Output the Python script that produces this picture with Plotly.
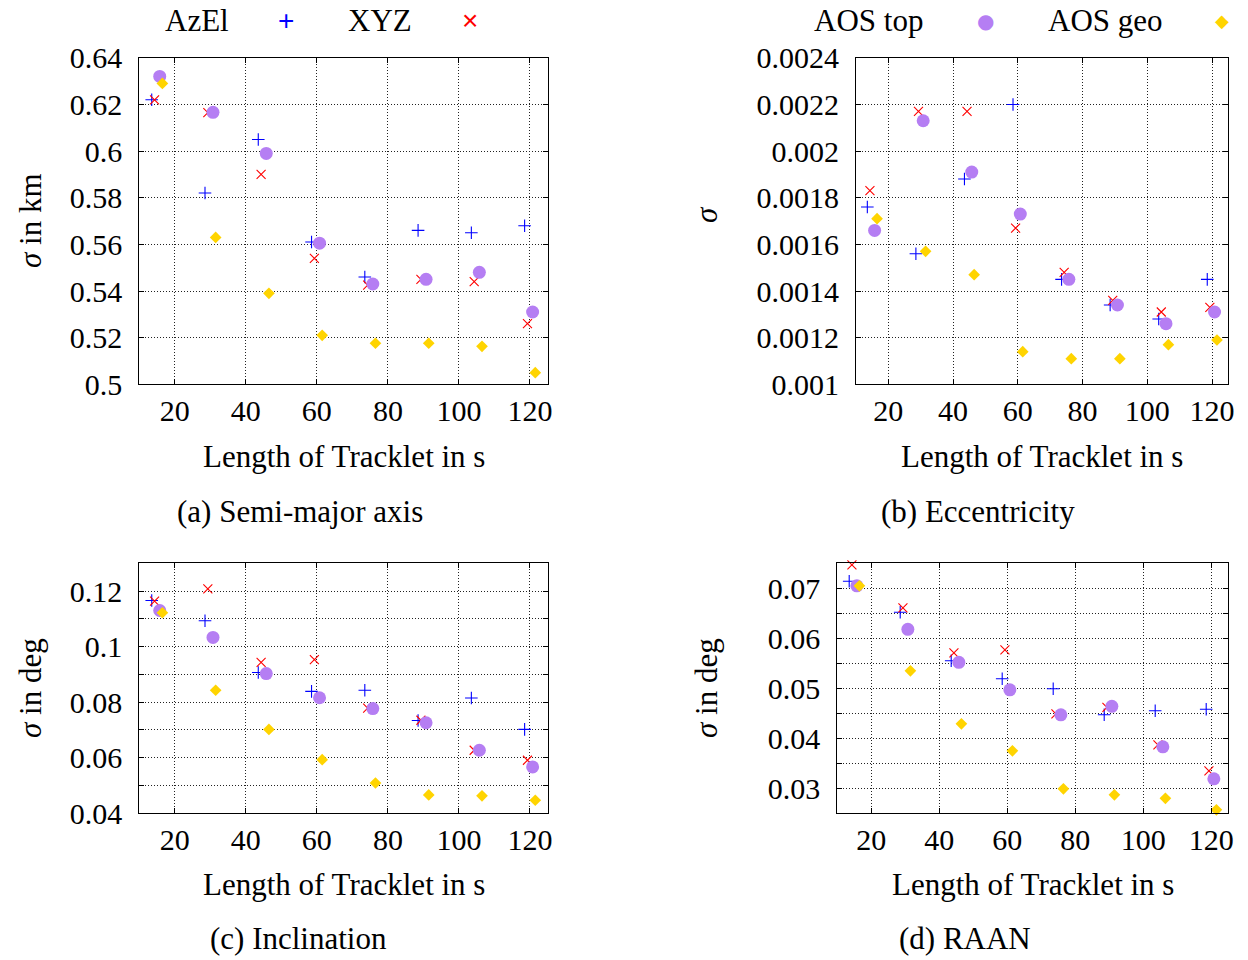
import plotly.graph_objects as go

# ---------------- data ----------------
# tracklet lengths (s), slightly offset per method as in the reference
x_azel = [13.5, 28.5, 43.5, 58.5, 73.5, 88.5, 103.5, 118.5]
x_xyz = [14.3, 29.3, 44.3, 59.3, 74.3, 89.3, 104.3, 119.3]
x_top = [15.75, 30.75, 45.75, 60.75, 75.75, 90.75, 105.75, 120.75]
x_geo = [16.5, 31.5, 46.5, 61.5, 76.5, 91.5, 106.5, 121.5]

# (a) semi-major axis sigma in km
a_azel = [0.622, 0.582, 0.605, 0.561, 0.546, 0.566, 0.565, 0.568]
a_xyz = [0.622, 0.6165, 0.590, 0.554, 0.5425, 0.545, 0.544, 0.526]
a_top = [0.632, 0.6166, 0.599, 0.5605, 0.543, 0.545, 0.548, 0.531]
a_geo = [0.629, 0.563, 0.539, 0.521, 0.5176, 0.5176, 0.5163, 0.505]

# (b) eccentricity sigma
e_azel = [0.00176, 0.00156, 0.00188, 0.00220, 0.00145, 0.00134, 0.00128, 0.00145]
e_xyz = [0.00183, 0.00217, 0.00217, 0.00167, 0.00148, 0.00136, 0.00131, 0.00133]
e_top = [0.00166, 0.00213, 0.00191, 0.00173, 0.00145, 0.00134, 0.00126, 0.00131]
e_geo = [0.00171, 0.00157, 0.00147, 0.00114, 0.00111, 0.00111, 0.00117, 0.00119]

# (c) inclination sigma in deg
i_azel = [0.1166, 0.1093, 0.0907, 0.0839, 0.0843, 0.0734, 0.0815, 0.0702]
i_xyz = [0.1164, 0.1208, 0.0943, 0.0953, 0.0779, 0.0735, 0.0627, 0.0591]
i_top = [0.1130, 0.1033, 0.0903, 0.0816, 0.0777, 0.0726, 0.0627, 0.0567]
i_geo = [0.1122, 0.0843, 0.0702, 0.0593, 0.0509, 0.0466, 0.0463, 0.0447]

# (d) RAAN sigma in deg
r_azel = [0.0714, 0.0652, 0.0555, 0.0519, 0.0499, 0.0447, 0.0455, 0.0458]
r_xyz = [0.0747, 0.0661, 0.0571, 0.0577, 0.0449, 0.0462, 0.0387, 0.0335]
r_top = [0.0705, 0.0618, 0.0552, 0.0497, 0.0447, 0.0464, 0.0383, 0.0319]
r_geo = [0.0705, 0.0535, 0.0429, 0.0375, 0.0299, 0.0287, 0.0280, 0.0257]

series_names = ["AzEl", "XYZ", "AOS top", "AOS geo"]

x_ticks = [20, 40, 60, 80, 100, 120]
x_ticktext = ["20", "40", "60", "80", "100", "120"]

a_ticks = [0.5, 0.52, 0.54, 0.56, 0.58, 0.6, 0.62, 0.64]
a_ticktext = ["0.5", "0.52", "0.54", "0.56", "0.58", "0.6", "0.62", "0.64"]
e_ticks = [0.001, 0.0012, 0.0014, 0.0016, 0.0018, 0.002, 0.0022, 0.0024]
e_ticktext = ["0.001", "0.0012", "0.0014", "0.0016", "0.0018", "0.002", "0.0022", "0.0024"]
i_ticks = [0.04, 0.05, 0.06, 0.07, 0.08, 0.09, 0.1, 0.11, 0.12]
i_ticktext = ["0.04", "", "0.06", "", "0.08", "", "0.1", "", "0.12"]
r_ticks = [0.025, 0.03, 0.035, 0.04, 0.045, 0.05, 0.055, 0.06, 0.065, 0.07]
r_ticktext = ["", "0.03", "", "0.04", "", "0.05", "", "0.06", "", "0.07"]

captions = ["(a) Semi-major axis", "(b) Eccentricity", "(c) Inclination", "(d) RAAN"]
y_titles = ["<i>σ</i> in km", "<i>σ</i>", "<i>σ</i> in deg", "<i>σ</i> in deg"]
x_title = "Length of Tracklet in s"

# ---------------- styling ----------------
W, H = 1248, 960
FONT = "Liberation Serif"
C_AZEL = "#0000ff"
C_XYZ = "#ff0000"
C_TOP = "#b57ef3"
C_GEO = "#ffd400"


def px(xp):
    return xp / W


def py(yp):
    return 1 - yp / H


styles = [
    dict(symbol="cross-thin", size=9, color=C_AZEL, line=dict(color=C_AZEL, width=1.1)),
    dict(symbol="x-thin", size=9, color=C_XYZ, line=dict(color=C_XYZ, width=1.1)),
    dict(symbol="circle", size=13, color=C_TOP, line=dict(width=0)),
    dict(symbol="diamond", size=9, color=C_GEO, line=dict(width=0)),
]

# panel geometry in window pixels: (left, right, top, bottom)
panels = [
    (139.3, 547.7, 57.8, 384.3),
    (856.0, 1228.3, 57.8, 384.3),
    (139.3, 547.7, 563.3, 813.3),
    (837.3, 1228.3, 563.3, 813.3),
]

fig = go.Figure()

panel_data = [
    ([x_azel, x_xyz, x_top, x_geo], [a_azel, a_xyz, a_top, a_geo]),
    ([x_azel, x_xyz, x_top, x_geo], [e_azel, e_xyz, e_top, e_geo]),
    ([x_azel, x_xyz, x_top, x_geo], [i_azel, i_xyz, i_top, i_geo]),
    ([x_azel, x_xyz, x_top, x_geo], [r_azel, r_xyz, r_top, r_geo]),
]
y_ranges = [[0.5, 0.64], [0.001, 0.0024], [0.04, 0.13], [0.025, 0.075]]
y_tickvals = [a_ticks, e_ticks, i_ticks, r_ticks]
y_ticktexts = [a_ticktext, e_ticktext, i_ticktext, r_ticktext]

tick_font = dict(family=FONT, size=30, color="black")

for k, ((xs, ys), (l, r, t, b)) in enumerate(zip(panel_data, panels)):
    n = "" if k == 0 else str(k + 1)
    for name, xv, yv, st in zip(series_names, xs, ys, styles):
        fig.add_trace(go.Scatter(
            x=xv, y=yv, mode="markers", name=name, showlegend=False,
            marker=st, cliponaxis=False,
            xaxis="x" + n, yaxis="y" + n,
        ))
    common = dict(
        showline=True, linecolor="black", linewidth=1.2, mirror="ticks",
        ticks="inside", ticklen=5, tickwidth=1, tickcolor="black",
        showgrid=True, gridcolor="#222222", griddash="1px,2px", gridwidth=1,
        zeroline=False, tickfont=tick_font, automargin=False,
    )
    fig.update_layout(**{
        "xaxis" + n: dict(
            domain=[px(l), px(r)], anchor="y" + n, range=[10, 125],
            tickmode="array", tickvals=x_ticks, ticktext=x_ticktext,
            ticklabelstandoff=0, **common),
        "yaxis" + n: dict(
            domain=[py(b), py(t)], anchor="x" + n, range=y_ranges[k],
            tickmode="array", tickvals=y_tickvals[k], ticktext=y_ticktexts[k],
            ticklabelstandoff=10, **common),
    })

annotations = []
title_font = dict(family=FONT, size=31, color="black")
# axis titles and captions (window pixel positions)
x_title_pos = [(344, 456), (1042, 456), (344, 884), (1033, 884)]
caption_pos = [(300, 511), (978, 511), (298, 938), (965, 938)]
y_title_pos = [(30, 221), (706, 215), (30, 688), (706, 688)]
for k in range(4):
    xt, yt = x_title_pos[k]
    annotations.append(dict(text=x_title, x=px(xt), y=py(yt), xref="paper", yref="paper",
                            xanchor="center", yanchor="middle", showarrow=False, font=title_font))
    xc, yc = caption_pos[k]
    annotations.append(dict(text=captions[k], x=px(xc), y=py(yc), xref="paper", yref="paper",
                            xanchor="center", yanchor="middle", showarrow=False, font=title_font))
    xy, yy = y_title_pos[k]
    annotations.append(dict(text=y_titles[k], x=px(xy), y=py(yy), xref="paper", yref="paper",
                            xanchor="center", yanchor="middle", showarrow=False, textangle=-90,
                            font=title_font))

# legend row (text followed by its key)
legend_items = [
    ("AzEl", 197, "+", 286, C_AZEL, 28, "Liberation Sans"),
    ("XYZ", 380, "×", 470, C_XYZ, 28, "Liberation Sans"),
    ("AOS top", 868, "●", 985, C_TOP, 20, "DejaVu Sans"),
    ("AOS geo", 1105, "◆", 1222, C_GEO, 18, "DejaVu Sans"),
]
for label, lx, sym, sx, col, ss, sf in legend_items:
    annotations.append(dict(text=label, x=px(lx), y=py(21), xref="paper", yref="paper",
                            xanchor="center", yanchor="middle", showarrow=False, font=title_font))
    annotations.append(dict(text=sym, x=px(sx), y=py(21), xref="paper", yref="paper",
                            xanchor="center", yanchor="middle", showarrow=False,
                            font=dict(family=sf, size=ss, color=col)))

fig.update_layout(
    width=W, height=H, margin=dict(l=0, r=0, t=0, b=0, autoexpand=False),
    paper_bgcolor="white", plot_bgcolor="white",
    annotations=annotations, showlegend=False,
)

# remove the default page margin so the figure fills the window exactly
fig.write_html("out.html",
               config={"displayModeBar": False},
               post_script="document.body.style.margin='0';document.body.style.overflow='hidden';")
